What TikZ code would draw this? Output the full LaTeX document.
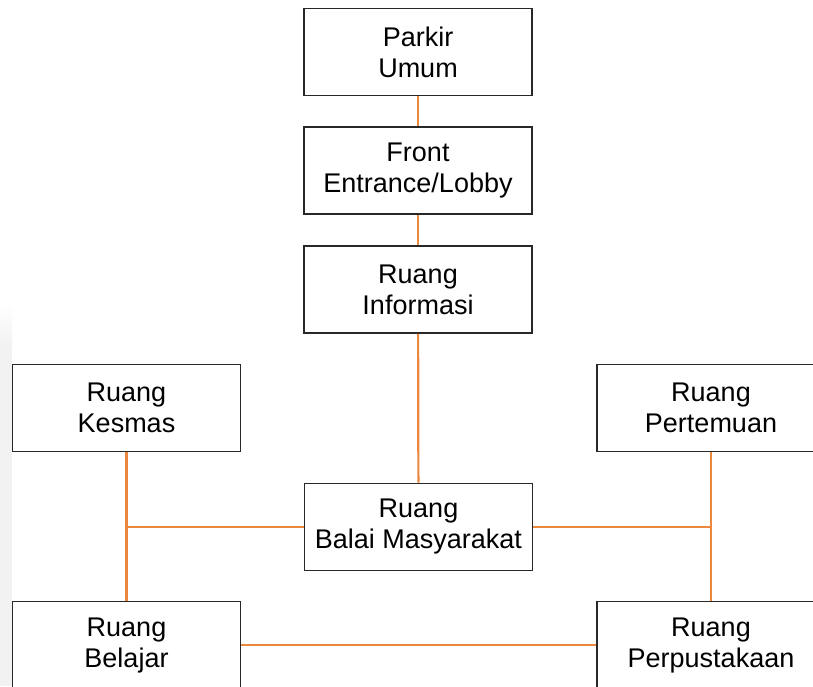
\documentclass[tikz,border=0pt]{standalone}
\usepackage{fontspec}
\setmainfont{Liberation Sans}
\definecolor{boxline}{RGB}{40,40,40}
\definecolor{link}{RGB}{236,135,62}
\definecolor{strip}{RGB}{242,242,242}
\begin{document}
\begin{tikzpicture}[x=1pt,y=-1pt,
  room/.style={draw=boxline,line width=1.7pt,fill=white,minimum width=228pt,minimum height=87pt,
    align=center,inner sep=0pt,font=\fontsize{27}{31}\selectfont},
  conn/.style={draw=link,line width=2.2pt}]
\useasboundingbox (0,0) rectangle (813,686);
\clip (0,0) rectangle (813,686);
\fill[white] (0,0) rectangle (813,686);
\shade[top color=white,bottom color=strip] (0,305) rectangle (12,345);
\fill[strip] (0,344) rectangle (12,686);
\node[room] (parkir) at (418,52) {Parkir\\Umum};
\node[room] (front) at (418,170.5) {Front\\Entrance/Lobby};
\node[room] (info) at (418,289.5) {Ruang\\Informasi};
\node[room] (kesmas) at (126.5,408) {Ruang\\Kesmas};
\node[room] (balai) at (418.5,527) {Ruang\\Balai Masyarakat};
\node[room] (pertemuan) at (711,408) {Ruang\\Pertemuan};
\node[room] (belajar) at (126.5,645) {Ruang\\Belajar};
\node[room] (perpus) at (711,645) {Ruang\\Perpustakaan};
\draw[conn] (parkir) -- (front);
\draw[conn] (front) -- (info);
\draw[conn] (info) -- (balai);
\draw[conn] (kesmas) -- (belajar);
\draw[conn] (pertemuan) -- (perpus);
\draw[conn] (balai.west) -- (balai.west -| kesmas.south);
\draw[conn] (balai.east) -- (balai.east -| pertemuan.south);
\draw[conn] (belajar) -- (perpus);
\end{tikzpicture}
\end{document}
